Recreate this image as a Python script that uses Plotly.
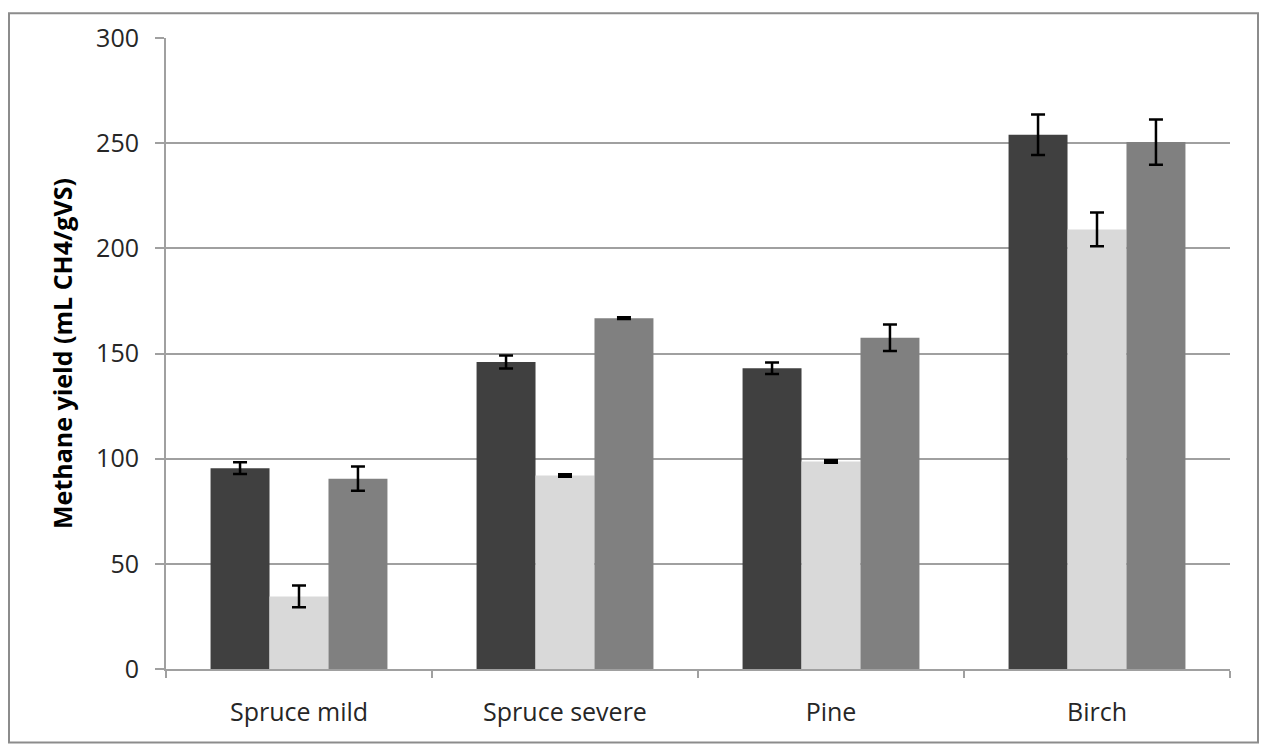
import plotly.graph_objects as go

# methane yield per wood type, three series
categories = ['Spruce mild', 'Spruce severe', 'Pine', 'Birch']
series_a = [95.5, 146, 143, 254]
series_a_err = [2.8, 3.1, 2.7, 9.6]
series_b = [34.5, 92, 98.7, 209]
series_b_err = [5.2, 0.6, 0.6, 8]
series_c = [90.5, 166.8, 157.5, 250.5]
series_c_err = [5.8, 0.4, 6.3, 10.8]

colors = ['#404040', '#d9d9d9', '#808080']

fig = go.Figure()
for vals, errs, col in zip([series_a, series_b, series_c],
                           [series_a_err, series_b_err, series_c_err],
                           colors):
    fig.add_trace(go.Bar(x=categories,
                         y=vals,
                         marker=dict(color=col, line=dict(width=0)),
                         error_y=dict(type='data', array=errs, color='black',
                                      thickness=2.5, width=7),
                         hoverinfo='y'))

# page body has an 8px margin, so the figure is kept 16px smaller
W, H = 1251, 736
ml, mr, mt, mb = 158, 29, 26, 75
pw, ph = W - ml - mr, H - mt - mb

grid_col = '#a0a0a0'
fig.update_layout(width=W, height=H,
                  barmode='group',
                  bargap=0.335,
                  bargroupgap=0,
                  showlegend=False,
                  plot_bgcolor='white',
                  paper_bgcolor='white',
                  font=dict(family='Open Sans, Liberation Sans, sans-serif',
                            size=19, color='#262626'),
                  margin=dict(l=ml, r=mr, t=mt, b=mb),
                  xaxis=dict(showgrid=False,
                             showline=True,
                             linecolor=grid_col,
                             linewidth=2,
                             ticks='outside',
                             tickson='boundaries',
                             ticklen=7,
                             tickcolor=grid_col,
                             tickwidth=2,
                             ticklabelstandoff=20,
                             tickfont=dict(size=25)),
                  yaxis=dict(range=[0, 300],
                             dtick=50,
                             showgrid=True,
                             gridcolor=grid_col,
                             gridwidth=2,
                             showline=True,
                             linecolor=grid_col,
                             linewidth=2,
                             zeroline=False,
                             ticks='outside',
                             ticklen=9,
                             tickcolor=grid_col,
                             tickwidth=2,
                             ticklabelstandoff=11,
                             tickfont=dict(size=25),
                             title=dict(text='<b>Methane yield (mL CH4/gVS)</b>',
                                        font=dict(size=25, color='black'),
                                        standoff=16)),
                  shapes=[dict(type='rect', xref='paper', yref='paper',
                               x0=(1 - ml) / pw, x1=(W - ml - 1) / pw,
                               y0=-(mb - 1) / ph, y1=(ph + mt - 1) / ph,
                               line=dict(color='#8c8c8c', width=2),
                               layer='below')])

fig.write_html("out.html")
